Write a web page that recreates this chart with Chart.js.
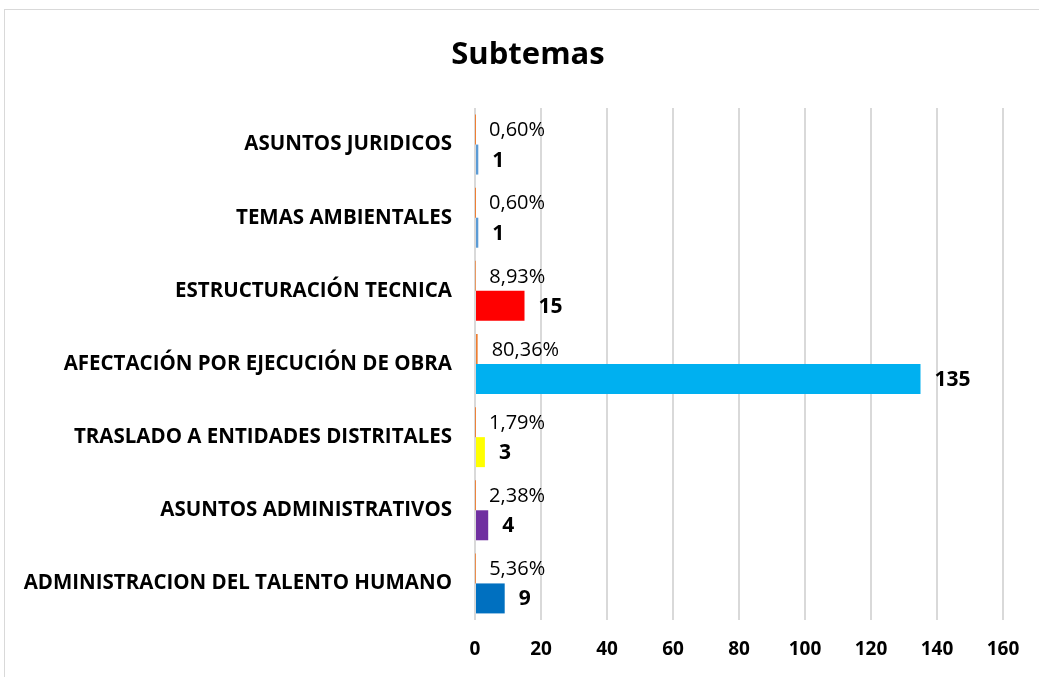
<!DOCTYPE html>
<html>
<head>
<meta charset="utf-8">
<script src="https://cdn.jsdelivr.net/npm/chart.js@4/dist/chart.umd.min.js"></script>
<style>
  body { margin: 0; background: #fff; }
  #wrap { position: relative; width: 1039px; height: 677px; overflow: hidden; }
  #box { position: absolute; left: 0; top: 0; width: 1056px; height: 677px; }
  #frame { position: absolute; left: 4px; top: 9px; width: 1100px; height: 700px; border: 1px solid #d9d9d9; }
</style>
</head>
<body>
<div id="wrap">
  <div id="frame"></div>
  <div id="box"><canvas id="myChart"></canvas></div>
</div>
<script>
// top to bottom, as in the picture
var categories = [
  "ASUNTOS JURIDICOS",
  "TEMAS AMBIENTALES",
  "ESTRUCTURACIÓN TECNICA",
  "AFECTACIÓN POR EJECUCIÓN DE OBRA",
  "TRASLADO A ENTIDADES DISTRITALES",
  "ASUNTOS ADMINISTRATIVOS",
  "ADMINISTRACION DEL TALENTO HUMANO",
];
var counts = [1, 1, 15, 135, 3, 4, 9];
var percents = [0.60, 0.60, 8.93, 80.36, 1.79, 2.38, 5.36];
var countColors = ["#5B9BD5", "#5B9BD5", "#FF0000", "#00B0F0", "#FFFF00", "#7030A0", "#0070C0"];
var xTicks = [0, 20, 40, 60, 80, 100, 120, 140, 160];

var FONT = "'Open Sans', sans-serif";

// draw the value labels next to each bar
var barLabels = {
  id: "barLabels",
  afterDatasetsDraw: function (chart) {
    var ctx = chart.ctx;
    ctx.save();
    ctx.fillStyle = "#000";
    ctx.textBaseline = "middle";
    ctx.textAlign = "left";
    chart.getDatasetMeta(0).data.forEach(function (bar, i) {
      ctx.font = "20px " + FONT;
      ctx.fillText(percents[i].toFixed(2).replace(".", ",") + "%", bar.x + 14, bar.y + 1);
    });
    chart.getDatasetMeta(1).data.forEach(function (bar, i) {
      ctx.font = "bold 21px " + FONT;
      ctx.fillText(String(counts[i]), bar.x + 14, bar.y + 1);
    });
    ctx.restore();
  },
};

// centre the title over the whole chart frame, not just the left part
var titleShift = {
  id: "titleShift",
  afterLayout: function (chart) {
    if (chart.titleBlock) chart.titleBlock.left = 53;
  },
};

document.addEventListener("DOMContentLoaded", function () {
  var data = {
    labels: categories,
    datasets: [
      {
        label: "Porcentaje",
        data: percents.map(function (p) { return p / 100; }),
        backgroundColor: "#ED7D31",
        barPercentage: 1,
        categoryPercentage: 0.82,
      },
      {
        label: "Cantidad",
        data: counts,
        backgroundColor: countColors,
        barPercentage: 1,
        categoryPercentage: 0.82,
      },
    ],
  };

  var options = {
    indexAxis: "y",
    responsive: true,
    maintainAspectRatio: false,
    animation: false,
    layout: { padding: { left: 0, right: 53, top: 0, bottom: 0 } },
    scales: {
      x: {
        min: 0,
        max: 160,
        afterBuildTicks: function (scale) {
          scale.ticks = xTicks.map(function (v) { return { value: v }; });
        },
        afterFit: function (scale) { scale.height = 57; },
        grid: { color: "#d9d9d9", lineWidth: 2, drawTicks: false },
        border: { display: false },
        ticks: {
          padding: 18,
          color: "#000",
          font: { family: FONT, size: 19, weight: "bold" },
        },
      },
      y: {
        afterFit: function (scale) { scale.width = 475; },
        grid: { display: false, drawTicks: false },
        border: { display: false },
        ticks: {
          padding: 23,
          color: "#000",
          font: { family: FONT, size: 20.5, weight: "bold" },
        },
      },
    },
    plugins: {
      legend: { display: false },
      tooltip: { enabled: false },
      title: {
        display: true,
        text: "Subtemas",
        color: "#000",
        font: { family: FONT, size: 31, weight: "bold" },
        padding: { top: 37, bottom: 33.8 },
      },
    },
  };

  var ctx = document.getElementById("myChart").getContext("2d");
  new Chart(ctx, {
    type: "bar",
    data: data,
    options: options,
    plugins: [barLabels, titleShift],
  });
});
</script>
</body>
</html>
